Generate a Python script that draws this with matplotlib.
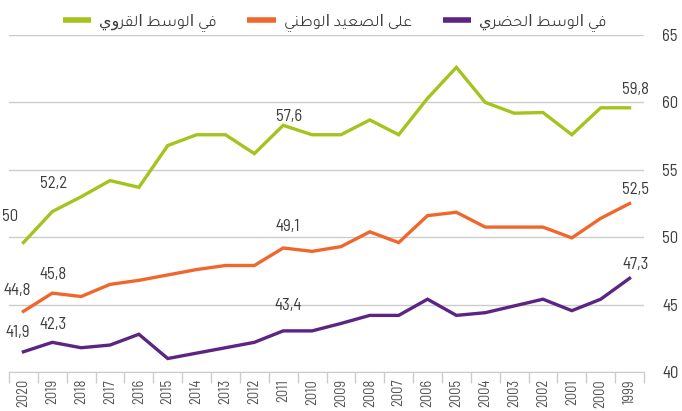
import matplotlib
matplotlib.use("Agg")
import matplotlib.pyplot as plt

# ---- data ----
years = [str(y) for y in range(2020, 1998, -1)]

rural = [49.6, 51.9, 53.0, 54.2, 53.7, 56.8, 57.6, 57.6, 56.2, 58.3, 57.6,
         57.6, 58.7, 57.6, 60.3, 62.6, 60.0, 59.2, 59.25, 57.6, 59.6, 59.6]
national = [44.5, 45.85, 45.6, 46.5, 46.8, 47.2, 47.6, 47.9, 47.9, 49.2, 48.95,
            49.3, 50.4, 49.6, 51.6, 51.85, 50.75, 50.75, 50.75, 49.95, 51.4, 52.5]
urban = [41.5, 42.2, 41.8, 42.0, 42.8, 41.0, 41.4, 41.8, 42.2, 43.05, 43.05,
         43.6, 44.2, 44.2, 45.4, 44.2, 44.4, 44.9, 45.4, 44.55, 45.4, 46.95]

series_names = ["في الوسط القروي", "على الصعيد الوطني", "في الوسط الحضري"]
series_colors = ["#a3c41c", "#f0672e", "#5c2483"]

label_idx = [0, 1, 9, 21]
rural_labels = ["50", "52,2", "57,6", "59,8"]
national_labels = ["44,8", "45,8", "49,1", "52,5"]
urban_labels = ["41,9", "42,3", "43,4", "47,3"]

yticks = [40, 45, 50, 55, 60, 65]

# label offsets in pixels (dx, dy) for each labelled point
rural_off = [(-13, 26), (1, 28), (6, 9), (6, 18)]
national_off = [(-6, 21), (1, 19), (5, 21), (6, 14)]
urban_off = [(-6, 19), (1, 18), (5, 25), (6, 14)]


# ---- minimal arabic shaping (matplotlib has no bidi / joining) ----
AR_FORMS = {
    'ا': (0xFE8D, 0xFE8E, None, None),
    'ب': (0xFE8F, 0xFE90, 0xFE91, 0xFE92),
    'ة': (0xFE93, 0xFE94, None, None),
    'ت': (0xFE95, 0xFE96, 0xFE97, 0xFE98),
    'ح': (0xFEA1, 0xFEA2, 0xFEA3, 0xFEA4),
    'د': (0xFEA9, 0xFEAA, None, None),
    'ر': (0xFEAD, 0xFEAE, None, None),
    'س': (0xFEB1, 0xFEB2, 0xFEB3, 0xFEB4),
    'ص': (0xFEB9, 0xFEBA, 0xFEBB, 0xFEBC),
    'ض': (0xFEBD, 0xFEBE, 0xFEBF, 0xFEC0),
    'ط': (0xFEC1, 0xFEC2, 0xFEC3, 0xFEC4),
    'ع': (0xFEC9, 0xFECA, 0xFECB, 0xFECC),
    'ف': (0xFED1, 0xFED2, 0xFED3, 0xFED4),
    'ق': (0xFED5, 0xFED6, 0xFED7, 0xFED8),
    'ل': (0xFEDD, 0xFEDE, 0xFEDF, 0xFEE0),
    'م': (0xFEE1, 0xFEE2, 0xFEE3, 0xFEE4),
    'ن': (0xFEE5, 0xFEE6, 0xFEE7, 0xFEE8),
    'و': (0xFEED, 0xFEEE, None, None),
    'ى': (0xFEEF, 0xFEF0, None, None),
    'ي': (0xFEF1, 0xFEF2, 0xFEF3, 0xFEF4),
}


def shape_ar(text):
    out = []
    n = len(text)
    for i, ch in enumerate(text):
        if ch not in AR_FORMS:
            out.append(ch)
            continue
        iso, fin, ini, med = AR_FORMS[ch]
        prev = text[i - 1] if i > 0 else ""
        nxt = text[i + 1] if i < n - 1 else ""
        join_prev = prev in AR_FORMS and AR_FORMS[prev][2] is not None
        join_next = ini is not None and nxt in AR_FORMS
        if join_prev and join_next:
            code = med
        elif join_prev:
            code = fin
        elif join_next:
            code = ini
        else:
            code = iso
        out.append(chr(code))
    return "".join(reversed(out))


# ---- plot ----
num_font = ["Barlow Semi Condensed", "DejaVu Sans"]
ar_font = ["Tajawal", "DejaVu Sans"]
txt_col = "#3c3c3c"
grid_col = "#cccccc"

fig = plt.figure(figsize=(6.82, 4.11), dpi=100)
ax = fig.add_axes([9 / 682, 1 - 372 / 411, 635 / 682, 337 / 411])

x = list(range(len(years)))
all_series = [rural, national, urban]
all_labels = [rural_labels, national_labels, urban_labels]
all_offs = [rural_off, national_off, urban_off]

lines = []
for vals, name, col in zip(all_series, series_names, series_colors):
    ln, = ax.plot(x, vals, color=col, lw=2.4, solid_joinstyle="miter",
                  label=shape_ar(name), zorder=3)
    lines.append(ln)

for vals, labs, offs in zip(all_series, all_labels, all_offs):
    for i, lab, (dx, dy) in zip(label_idx, labs, offs):
        ax.annotate(lab, (i, vals[i]), xytext=(dx, dy), textcoords="offset pixels",
                    ha="center", va="center", fontsize=12, color=txt_col,
                    family=num_font)

ax.set_xlim(-0.5, len(years) - 0.5)
ax.set_ylim(40, 65)
ax.set_yticks(yticks)
ax.yaxis.tick_right()
ax.tick_params(axis="y", length=0, pad=13, labelsize=12, labelcolor=txt_col)
for t in ax.get_yticklabels():
    t.set_family(num_font)
ax.grid(axis="y", color=grid_col, lw=1)
ax.set_axisbelow(True)

ax.set_xticks(x)
ax.set_xticklabels(years, rotation=90, fontsize=10.5, color="#555555", family=num_font)
ax.set_xticks([i - 0.5 for i in range(len(years) + 1)], minor=True)
ax.tick_params(axis="x", which="major", length=0, pad=5)
ax.tick_params(axis="x", which="minor", length=8, color=grid_col, width=1)

for s in ["top", "left", "right"]:
    ax.spines[s].set_visible(False)
ax.spines["bottom"].set_color(grid_col)

leg = ax.legend(handles=lines, loc="center", bbox_to_anchor=(0.513, 1.038),
                ncol=3, frameon=False, handlelength=1.8, handletextpad=0.5,
                columnspacing=1.9, prop={"family": ar_font, "size": 11.5},
                borderaxespad=0)
for t in leg.get_texts():
    t.set_color(txt_col)
for h in leg.legend_handles:
    h.set_linewidth(4)
    h.set_solid_capstyle("butt")

fig.savefig("out.png", dpi=100)
